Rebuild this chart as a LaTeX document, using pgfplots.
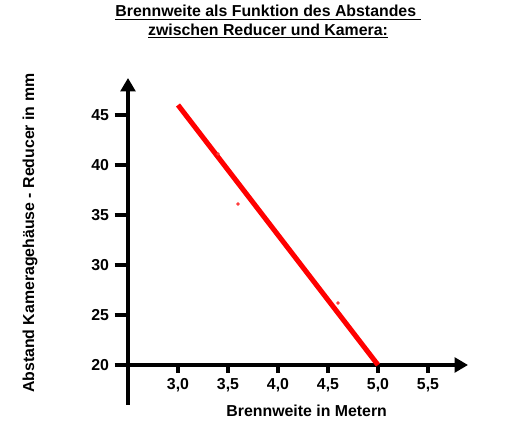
\documentclass[border=0pt]{standalone}
\usepackage{fontspec}
\setmainfont{Liberation Sans}
\usepackage{pgfplots}
\pgfplotsset{compat=1.18}
\usetikzlibrary{arrows.meta}
\begin{document}
\begin{tikzpicture}
\useasboundingbox (0,0) rectangle (399pt,325.5pt);
% title
\node[font=\bfseries\fontsize{11.9}{14}\selectfont, align=center] at (201pt,309pt)
  {\underline{Brennweite als Funktion des Abstandes\ }\\\underline{zwischen Reducer und Kamera:}};
\begin{axis}[
  at={(96pt,51.75pt)}, anchor=south west,
  scale only axis, width=255pt, height=215.25pt,
  xmin=2.5, xmax=5.9, ymin=20, ymax=48.7,
  axis lines=left, clip=false,
  axis line style={line width=2.4pt, -{Triangle[length=10pt,width=11pt]}},
  xtick={3,3.5,4,4.5,5,5.5}, ytick={20,25,30,35,40,45},
  tick align=outside,
  tick style={line width=2.4pt, black},
  xtick style={/pgfplots/major tick length=6pt},
  ytick style={/pgfplots/major tick length=10pt},
  tick label style={font=\bfseries\fontsize{11.9}{13}\selectfont},
  /pgf/number format/assume math mode=true,
  xticklabel style={yshift=-2.5pt, /pgf/number format/.cd, use comma, fixed, fixed zerofill, precision=1},
  yticklabel style={xshift=-6.5pt},
]
% lower extension of the vertical axis
\draw[line width=2.4pt] (axis cs:2.5,20) -- (axis cs:2.5,16);
% fitted line
\addplot[red, line width=3.8pt, no marks] coordinates {(3.0,46.0) (5.0,20.0)};
% measured points
\addplot[only marks, mark=*, mark size=1.1pt, color=red!80!white] coordinates {
  (3.4,41.1) (3.6,36.1) (4.6,26.2)
};
\end{axis}
% axis labels
\node[font=\bfseries\fontsize{11.9}{13}\selectfont] at (230pt,17pt) {Brennweite in Metern};
\node[font=\bfseries\fontsize{11.9}{13}\selectfont, rotate=90] at (22.5pt,150.5pt) {Abstand Kameragehäuse - Reducer in mm};
\end{tikzpicture}
\end{document}
